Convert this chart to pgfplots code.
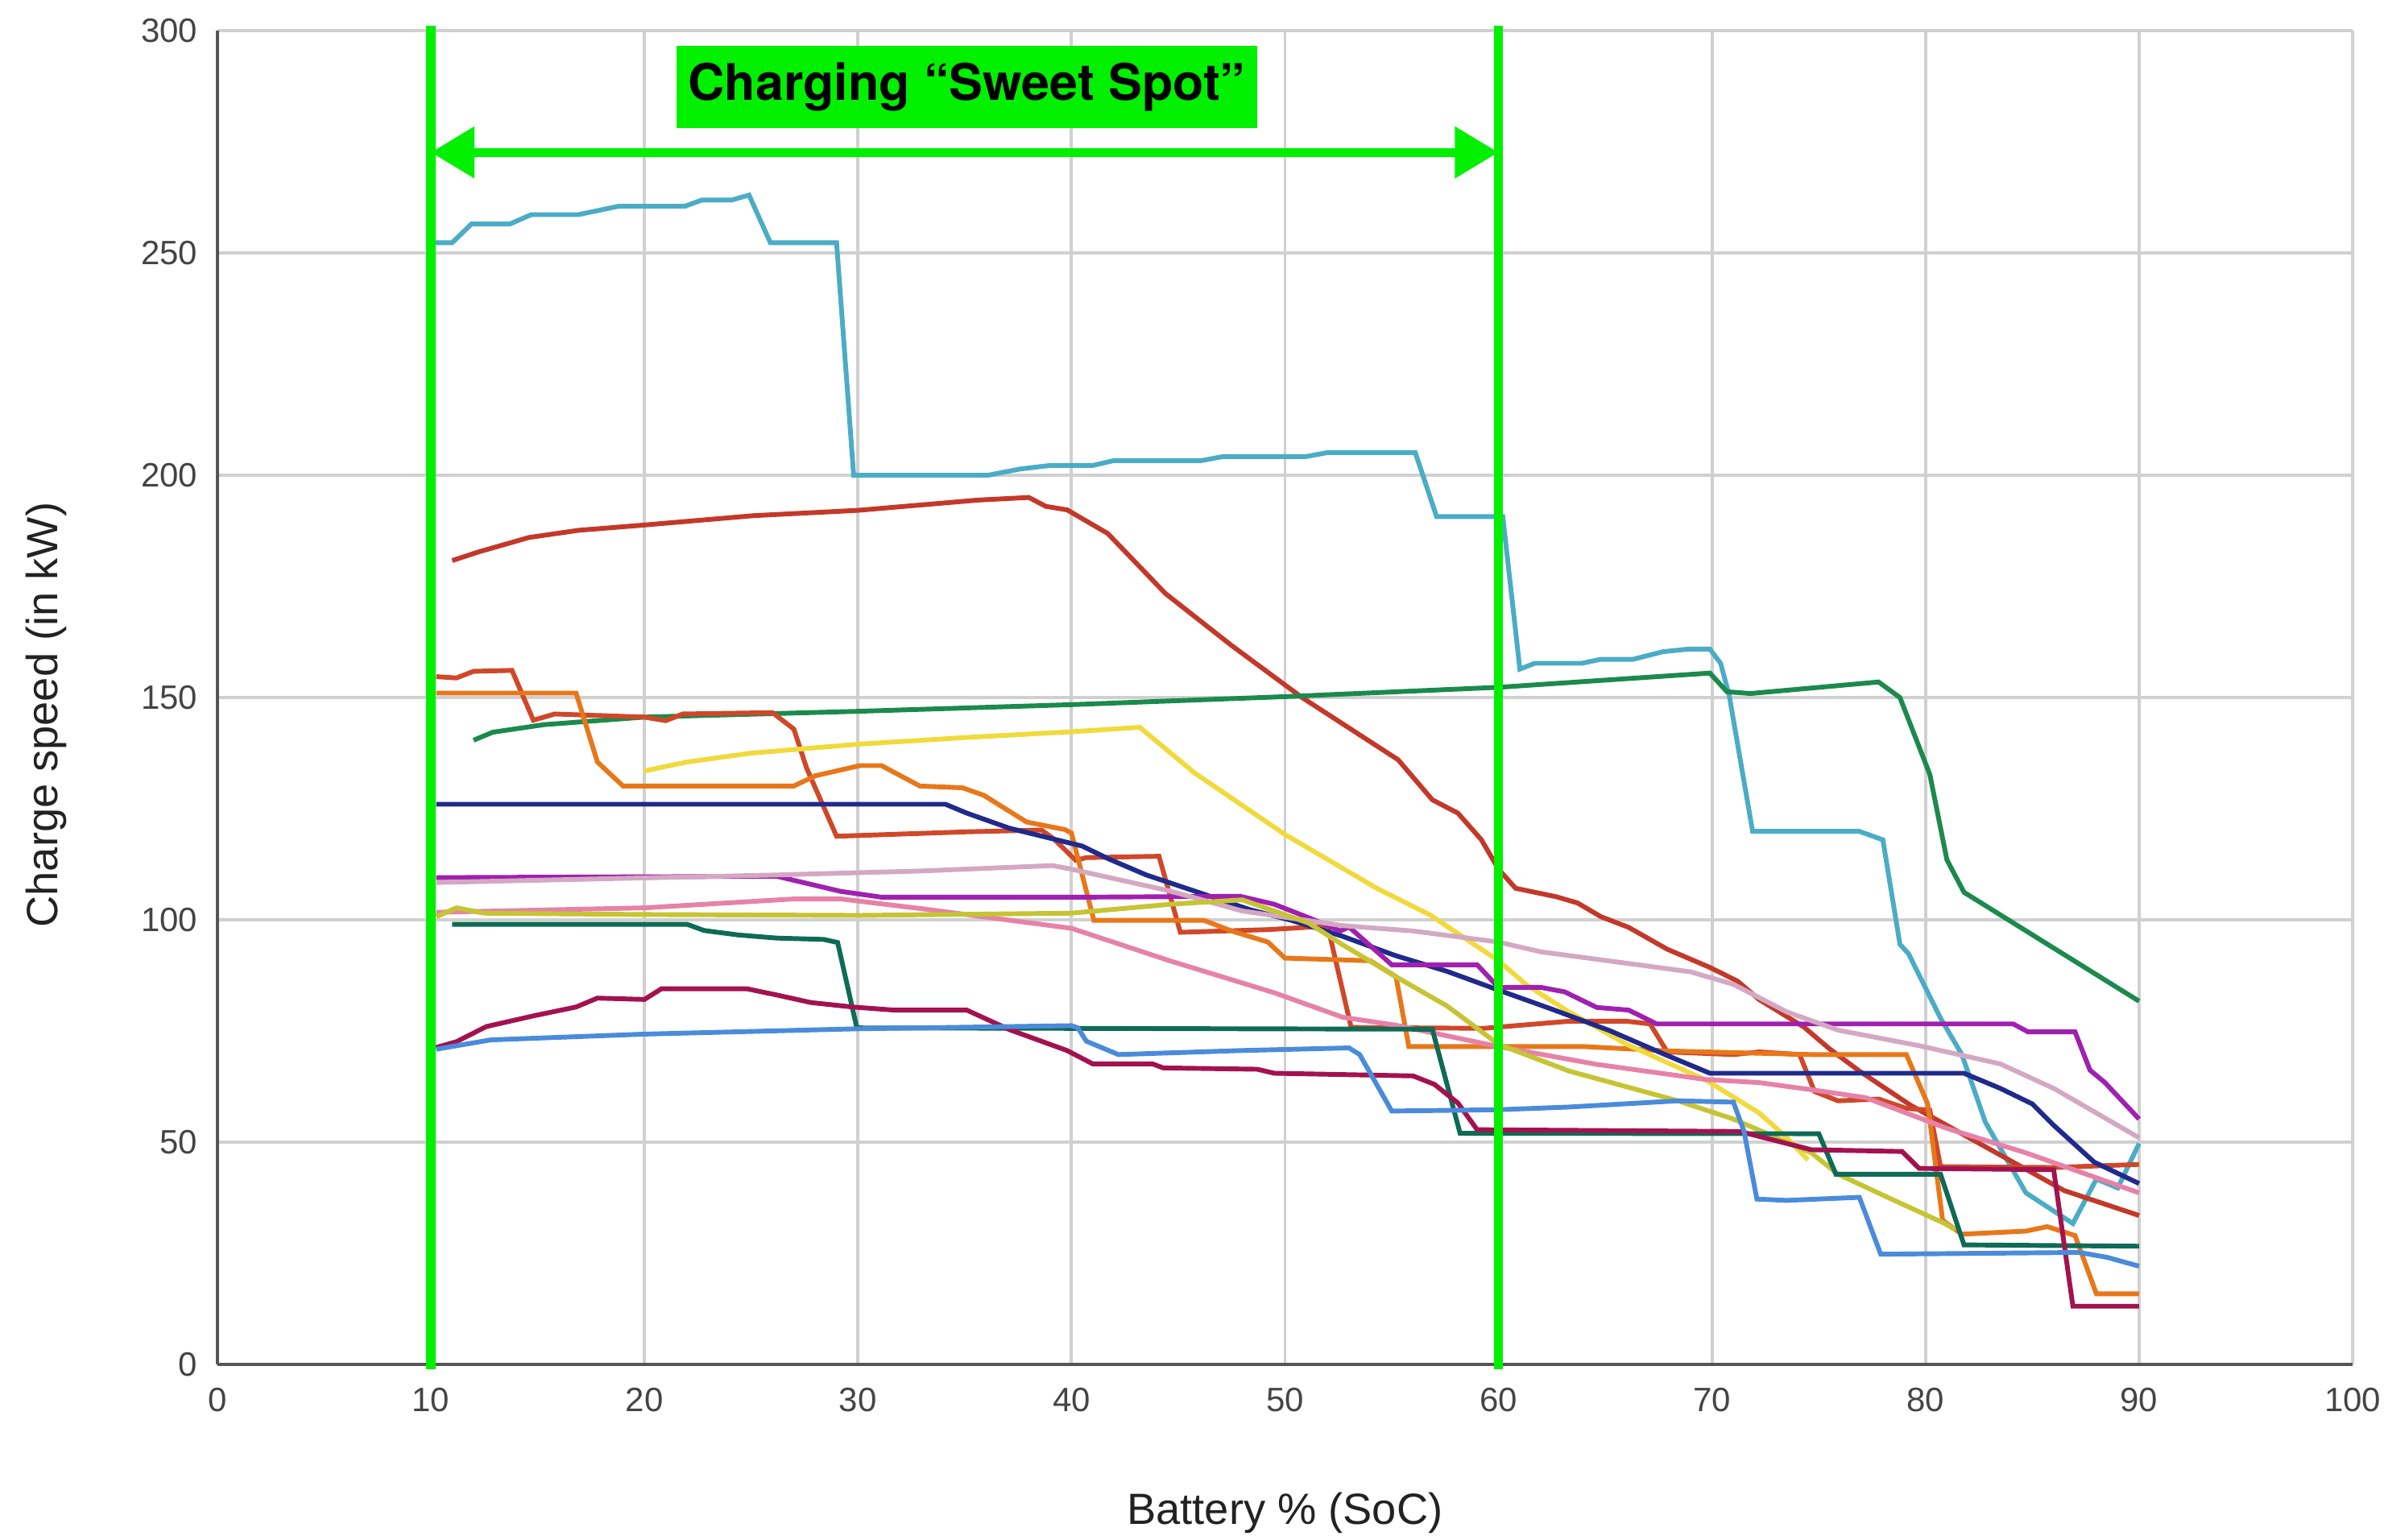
\documentclass[border=0pt]{standalone}
\usepackage{fontspec}
\setmainfont{Liberation Sans}
\newfontfamily\heros{TeX Gyre Heros}
\usepackage{pgfplots}
\pgfplotsset{compat=1.18}
\usetikzlibrary{arrows.meta}

\definecolor{gridc}{HTML}{D0D0D0}
\definecolor{axisc}{HTML}{555555}
\definecolor{tickc}{HTML}{444444}
\definecolor{labc}{HTML}{222222}
\definecolor{sweet}{HTML}{00F000}
\definecolor{cCyan}{HTML}{4BACC6}
\definecolor{cRed}{HTML}{C4382A}
\definecolor{cGreen}{HTML}{1B8A4C}
\definecolor{cRedOr}{HTML}{D0472A}
\definecolor{cOrange}{HTML}{E8771A}
\definecolor{cYellow}{HTML}{F0DA3C}
\definecolor{cNavy}{HTML}{1F2A8C}
\definecolor{cPurple}{HTML}{A020B0}
\definecolor{cMauve}{HTML}{D4A8C2}
\definecolor{cPink}{HTML}{E682A8}
\definecolor{cOlive}{HTML}{C6C434}
\definecolor{cTeal}{HTML}{0E6B55}
\definecolor{cCrimson}{HTML}{A3124F}
\definecolor{cBlue}{HTML}{4A8BDB}

\begin{document}
\begin{tikzpicture}
\useasboundingbox (-54.7pt,-44pt) rectangle (545.3pt,343.4pt);
\begin{axis}[
    at={(0,0)}, anchor=south west,
    scale only axis,
    width=537.4pt, height=335.7pt,
    xmin=0, xmax=100, ymin=0, ymax=300,
    xtick={0,10,...,100},
    ytick={0,50,...,300},
    grid=major,
    major grid style={color=gridc, line width=0.75pt},
    axis x line*=bottom, axis y line*=left,
    axis line style={color=axisc, line width=0.9pt, -},
    major tick length=0pt,
    tick label style={font=\fontsize{8.5}{10}\selectfont, text=tickc},
    xticklabel style={yshift=-2.3pt},
    yticklabel style={xshift=-1.5pt},
    /pgf/number format/assume math mode=true,
    xlabel={Battery \% (SoC)},
    ylabel={Charge speed (in kW)},
    label style={font=\fontsize{11}{13}\selectfont, text=labc},
    xlabel style={at={(axis description cs:0.5,0)}, anchor=center, yshift=-37.3pt},
    ylabel style={at={(axis description cs:-0.080,0.487)}, anchor=center},
    no markers,
    every axis plot/.append style={line width=1.2pt},
    clip=false
]

% cyan
\addplot[color=cCyan] coordinates {
(10,252.3)(11,252.3)(11.9,256.5)(13.7,256.5)(14.7,258.6)(16.9,258.6)(18.8,260.5)(21.9,260.5)(22.7,261.9)(24.1,261.9)(24.9,263)(25.9,252.3)(29,252.3)(29.8,200)(36.1,200)(37.6,201.4)(39,202.2)(41,202.2)(42,203.3)(46.1,203.3)(47.1,204.2)(51,204.2)(52,205.1)(56.1,205.1)(57.1,190.7)(60.2,190.7)(61,156.4)(61.7,157.7)(63.9,157.7)(64.8,158.6)(66.3,158.6)(67.7,160.3)(68.9,160.9)(69.9,160.9)(70.4,157.7)(70.8,150.6)(71.9,119.9)(76.9,119.9)(78,118)(78.8,94.5)(79.2,92.4)(80.7,77.9)(81.7,69.7)(82.8,54.5)(84.7,38.6)(86.9,31.7)(88,41.7)(89,39.7)(90,49.7)
};
% red, top
\addplot[color=cRed] coordinates {
(11,180.8)(12.2,182.7)(14.6,186)(16.9,187.6)(20,188.8)(25.1,190.9)(30,192.1)(35.6,194.4)(38,195)(38.8,193)(39.8,192.2)(41.7,186.9)(44.4,173.4)(47.5,161.7)(50.8,150)(55.3,136)(56.9,127)(58.1,124)(59.2,118)(60,111.4)(60.8,107.1)(62.7,105.2)(63.7,103.8)(64.8,100.7)(66.1,98.3)(67.9,93.4)(69.9,89.3)(71.2,86.2)(72.2,82.1)(74.3,75.9)(75.5,71)(76.9,66)(79.3,58.3)(81.7,51.9)(84.1,45.5)(86.5,39.1)(90,33.5)
};
% green
\addplot[color=cGreen] coordinates {
(12,140.4)(12.9,142.2)(15.3,143.9)(20,145.6)(30,146.9)(40,148.4)(50,150.2)(60,152.3)(69.9,155.5)(70.7,151.3)(71.8,150.9)(77.8,153.5)(78.8,150)(80.2,132.7)(81,113.5)(81.8,106.2)(90,81.7)
};
% red-orange
\addplot[color=cRedOr] coordinates {
(10.25,154.7)(11.2,154.4)(12,155.9)(13.8,156.1)(14.8,144.9)(15.8,146.3)(20,145.6)(21,144.8)(21.8,146.3)(26,146.6)(27,142.9)(27.6,134.1)(29,118.8)(35.1,119.8)(38.6,120.2)(39.2,118.1)(40.2,113.4)(40.7,114)(44.1,114.3)(45.1,97.2)(49.2,97.8)(52,98.6)(53.1,75.8)(59.3,75.6)(60.8,76.2)(63.3,77.2)(66,77.2)(67.1,76.6)(67.9,70.3)(71,69.7)(72.2,70.3)(74.1,69.7)(74.8,61.4)(75.9,59.3)(77.8,59.7)(79.1,57.6)(80.2,57.2)(80.7,44.5)(86,44.3)(90,45)
};
% orange
\addplot[color=cOrange] coordinates {
(10.25,151)(16.8,151)(17.8,135.5)(19,130.1)(27,130.1)(28,132.4)(30.1,134.7)(31.1,134.7)(32.9,130.1)(34.9,129.7)(35.9,128)(37.9,122)(39.7,120.3)(40,119.5)(41.05,99.9)(46.2,99.9)(47.5,97.5)(49.2,95)(50,91.4)(54,90.8)(55.2,87.2)(55.8,71.5)(60,71.5)(64,71.5)(68,70.5)(74.65,69.7)(79.1,69.7)(80.1,58.6)(80.8,32.4)(81.7,29.3)(84.7,30)(85.7,31)(87,29)(88,15.9)(90,15.9)
};
% yellow
\addplot[color=cYellow] coordinates {
(20,133.5)(22,135.5)(25,137.5)(30,139.5)(35,141)(40,142.3)(43.2,143.3)(45.75,133.1)(50,119.2)(54.3,107.1)(56.8,101.1)(60,90.8)(61.3,85.4)(63.3,79.3)(66,72)(69.7,64)(72.2,56.6)(73.5,51)(74.5,46)
};
% navy
\addplot[color=cNavy] coordinates {
(10.25,126)(34.1,126)(35.1,124)(37.1,120.6)(40.5,116.6)(41.7,113.8)(43.5,110.1)(45.75,106.5)(48.35,102.3)(50.3,99.9)(52.7,96.3)(55.15,92)(57.6,88.4)(60,84.2)(62.45,80)(65.2,75.1)(67.8,69.7)(69.9,65.5)(81.8,65.5)(83.5,62.1)(85,58.6)(86,53.8)(87.9,45.5)(90,40.7)
};
% purple
\addplot[color=cPurple] coordinates {
(10.25,109.5)(26.2,109.8)(29.2,106.4)(31.1,105.1)(40.5,105.1)(47.9,105.3)(49.5,103.5)(51.1,100.5)(52.6,97.5)(53,98.4)(55,89.9)(59,89.9)(60,84.8)(62,84.8)(63.1,83.8)(64.6,80.3)(66.1,79.7)(67.4,76.6)(84.1,76.6)(84.8,74.8)(87,74.8)(87.7,66.2)(88.4,63.4)(90,55.2)
};
% mauve
\addplot[color=cMauve] coordinates {
(10.25,108.4)(26.2,110.1)(33,111)(39.1,112.2)(39.9,111.5)(44.6,106.5)(48,102)(52.7,98.7)(56,97.5)(60,95)(62,92.8)(65.9,90.3)(69,88.3)(71,85.5)(73.5,79.3)(75.9,75.2)(79.7,71.7)(83.5,67.6)(86,62.1)(90,51)
};
% pink
\addplot[color=cPink] coordinates {
(10.25,101.7)(20,102.7)(27,104.7)(29.2,104.7)(33,102.5)(40,98.1)(44.6,90.8)(49.5,83.6)(52.7,78.1)(55.2,76.3)(60,71.5)(64.6,67.5)(69.7,64.1)(72.2,63.4)(74.8,61.7)(77.2,60)(81,53.1)(84.7,47.6)(90,38.6)
};
% olive
\addplot[color=cOlive] coordinates {
(10.25,100.7)(11.2,102.7)(12.5,101.5)(20,101.2)(30,101)(40,101.5)(44.6,103.5)(48,104.5)(51.1,99.3)(52.7,94.4)(55.2,87.2)(57.6,80.6)(60,72)(63.3,66)(68.4,59.3)(71,55.2)(74.65,47.6)(75.9,42.8)(78.4,37.2)(80.9,31.7)(81.4,30.3)
};
% teal
\addplot[color=cTeal] coordinates {
(11,99)(22,99)(22.8,97.6)(24.4,96.6)(26.2,95.9)(28.4,95.6)(29.05,94.9)(29.95,75.7)(56.9,75.4)(58.2,52)(75,51.9)(75.8,42.8)(80.7,42.8)(81.8,26.9)(90,26.6)
};
% crimson
\addplot[color=cCrimson] coordinates {
(10.25,71.3)(11.2,72.6)(12.6,76)(14.8,78.4)(16.8,80.4)(17.8,82.4)(20,82.1)(20.8,84.5)(24.8,84.5)(26.2,83.1)(27.8,81.4)(29.75,80.4)(31.7,79.7)(35.1,79.7)(37.1,75.3)(39.8,70.6)(41,67.6)(43.8,67.6)(44.3,66.7)(48.7,66.4)(49.5,65.5)(56,64.9)(57,63)(58.1,58.8)(59,52.8)(71.3,52.4)(74.65,48.3)(78.9,47.9)(79.7,44.1)(86,43.8)(86.9,13.1)(90,13.1)
};
% blue
\addplot[color=cBlue] coordinates {
(10.25,70.9)(12.8,73)(20,74.3)(30,75.5)(40,76.2)(40.3,75.7)(40.7,72.7)(42.2,69.7)(47.9,70.6)(53,71.2)(53.5,69.7)(55,57)(60,57.3)(63.3,57.9)(68.4,59.3)(71,59)(71.5,52.4)(72.1,37.2)(73.5,36.9)(76.9,37.6)(77.9,24.8)(87.2,25.2)(88.5,24.1)(90,22.1)
};

% sweet spot annotation
\draw[sweet, line width=2.3pt] (axis cs:10,301) -- (axis cs:10,-1);
\draw[sweet, line width=2.3pt] (axis cs:60,301) -- (axis cs:60,-1);
\draw[sweet, line width=2.3pt, {Triangle[length=11pt,width=12.5pt]}-{Triangle[length=11pt,width=12.5pt]}]
    (axis cs:10,272.6) -- (axis cs:60,272.6);
\node[fill=sweet, inner xsep=3pt, inner ysep=0pt, minimum height=20.7pt,
      font=\heros\bfseries\fontsize{12.7}{14}\selectfont, text=black]
    at (axis cs:35.1,287.3) {Charging “Sweet Spot”};
\end{axis}
\end{tikzpicture}
\end{document}
